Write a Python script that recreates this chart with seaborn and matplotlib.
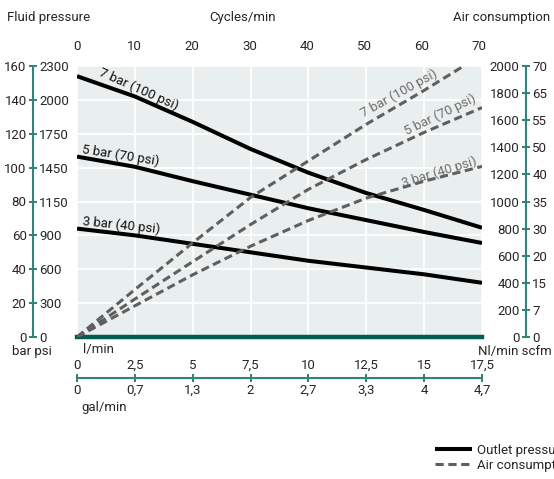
import numpy as np
import pandas as pd
import matplotlib.pyplot as plt
import seaborn as sns

# Tamano en pixeles de la figura
W, H = 554, 479

sns.set_theme(style='white')
plt.rcParams['font.family'] = ['Roboto', 'DejaVu Sans']
plt.rcParams['font.size'] = 9.5
FS = 9.5

# ---- Datos ----
flujo = [0, 2.5, 5, 7.5, 10, 12.5, 15, 17.5]            # l/min
salida_7bar = [154, 142, 127, 111, 97, 85, 75, 64.5]     # bar
salida_5bar = [106.5, 100.5, 92, 84, 76, 69, 62, 55.5]
salida_3bar = [64, 60, 55, 50, 45, 41, 37, 32]

flujo_aire_7 = [0, 2.5, 5, 7.5, 10, 12.5, 15, 16.85]
aire_7bar = [0, 350, 695, 1030, 1300, 1570, 1820, 2015]  # Nl/min
aire_5bar = [0, 280, 556, 830, 1090, 1310, 1510, 1693]
aire_3bar = [0, 230, 459, 670, 860, 1025, 1150, 1259]

ciclos_ticks = [0, 10, 20, 30, 40, 50, 60, 70]
bar_ticks = [0, 20, 40, 60, 80, 100, 120, 140, 160]
psi_labels = ['0', '300', '600', '900', '1150', '1450', '1750', '2000', '2300']
nl_ticks = [0, 200, 400, 600, 800, 1000, 1200, 1400, 1600, 1800, 2000]
scfm_labels = ['0', '7', '15', '20', '30', '35', '40', '50', '55', '65', '70']
lmin_ticks = [0, 2.5, 5, 7.5, 10, 12.5, 15, 17.5]
lmin_labels = ['0', '2,5', '5', '7,5', '10', '12,5', '15', '17,5']
gal_labels = ['0', '0,7', '1,3', '2', '2,7', '3,3', '4', '4,7']

TEAL = '#2f8576'
TEAL_OSC = '#005c50'
GRIS = '#5f5f5f'
FONDO = '#e9eeee'


def px2pt(p):
    return p * 72 / 100


fig = plt.figure(figsize=(W / 100, H / 100), dpi=100)
L, R, T, B = 77, 482, 66, 337
ax = fig.add_axes([L / W, 1 - B / H, (R - L) / W, (B - T) / H])
ax.set_facecolor(FONDO)
ax.set_xlim(0, 17.5)
ax.set_ylim(0, 160)
ax.set_xticks(lmin_ticks)
ax.tick_params(axis='x', length=0, labelbottom=False)
ax.grid(True, color='white', linewidth=1.2)
for s in ['top', 'right']:
    ax.spines[s].set_visible(False)
ax.spines['bottom'].set_color(TEAL_OSC)
ax.spines['bottom'].set_linewidth(3.2)
ax.spines['bottom'].set_zorder(5)

tick_kw = dict(direction='inout', length=6, width=1.3, color=TEAL, pad=1.5, labelsize=FS)

# Eje izquierdo (bar)
ax.spines['left'].set_position(('outward', px2pt(44)))
ax.spines['left'].set_color(TEAL)
ax.spines['left'].set_linewidth(1.5)
ax.set_yticks(bar_ticks)
ax.tick_params(axis='y', **tick_kw)

# Eje izquierdo (psi)
ax_p = ax.twinx()
ax_p.set_ylim(0, 160)
for s in ['top', 'left', 'bottom', 'right']:
    ax_p.spines[s].set_visible(False)
ax_p.spines['right'].set_position(('axes', -44 / (R - L)))
ax_p.set_yticks(bar_ticks, psi_labels)
ax_p.tick_params(axis='y', **tick_kw)

# Consumo de aire (Nl/min a la izquierda del eje, scfm a la derecha)
ax2 = ax.twinx()
ax2.set_ylim(0, 2000)
for s in ['top', 'left', 'bottom']:
    ax2.spines[s].set_visible(False)
ax2.spines['right'].set_position(('outward', px2pt(44)))
ax2.spines['right'].set_color(TEAL)
ax2.spines['right'].set_linewidth(1.5)
ax2.set_yticks(nl_ticks, scfm_labels)
ax2.tick_params(axis='y', **tick_kw)

ax3 = ax.twinx()
ax3.set_ylim(0, 2000)
for s in ['top', 'right', 'bottom', 'left']:
    ax3.spines[s].set_visible(False)
ax3.yaxis.set_ticks_position('left')
ax3.spines['left'].set_position(('axes', 1 + 44 / (R - L)))
ax3.set_yticks(nl_ticks, [str(v) for v in nl_ticks])
ax3.tick_params(axis='y', **tick_kw)

# Eje de ciclos arriba
ax_c = ax.twiny()
ax_c.set_xlim(0, 70.5)
for s in ['top', 'right', 'bottom', 'left']:
    ax_c.spines[s].set_visible(False)
ax_c.set_xticks(ciclos_ticks)
ax_c.tick_params(axis='x', length=0, pad=px2pt(13), labelsize=FS)

# Escala de caudal abajo (l/min arriba de la linea, gal/min debajo)
ABAJO = -(378 - B) / (B - T)
ax_l = ax.twiny()
ax_l.set_xlim(0, 17.5)
for s in ['right', 'bottom', 'left']:
    ax_l.spines[s].set_visible(False)
ax_l.spines['top'].set_position(('axes', ABAJO))
ax_l.spines['top'].set_color(TEAL)
ax_l.spines['top'].set_linewidth(1.5)
ax_l.set_xticks(lmin_ticks, lmin_labels)
ax_l.tick_params(axis='x', **tick_kw)

ax_g = ax.twiny()
ax_g.set_xlim(0, 17.5)
for s in ['right', 'top', 'left', 'bottom']:
    ax_g.spines[s].set_visible(False)
ax_g.xaxis.set_ticks_position('bottom')
ax_g.spines['bottom'].set_position(('axes', ABAJO))
ax_g.set_xticks(lmin_ticks, gal_labels)
ax_g.tick_params(axis='x', **tick_kw)

# ---- Curvas ----
for serie in [salida_7bar, salida_5bar, salida_3bar]:
    sns.lineplot(x=flujo, y=serie, ax=ax, color='black', linewidth=2.9,
                 solid_capstyle='butt', solid_joinstyle='round', zorder=4)

for fx_, serie in [(flujo_aire_7, aire_7bar), (flujo, aire_5bar), (flujo, aire_3bar)]:
    sns.lineplot(x=fx_, y=serie, ax=ax2, color=GRIS, linewidth=2.2,
                 linestyle=(0, (2.7, 1.5)), zorder=3)

ax.set_xlabel('')
ax.set_ylabel('')
ax2.set_ylabel('')


def data_pt(axis, px, py):
    # convierte pixeles a datos del eje indicado
    x0, x1 = axis.get_xlim()
    y0, y1 = axis.get_ylim()
    return (x0 + (px - L) / (R - L) * (x1 - x0), y0 + (B - py) / (B - T) * (y1 - y0))


etiquetas_sal = [('7 bar (100 psi)', 139, 89, -24), ('5 bar (70 psi)', 121, 155, -9),
                 ('3 bar (40 psi)', 121, 225, -6)]
for txt, px, py, rot in etiquetas_sal:
    x, y = data_pt(ax, px, py)
    ax.text(x, y, txt, rotation=rot, ha='center', va='center', fontsize=FS,
            color='#111111', rotation_mode='anchor', zorder=6)

etiquetas_aire = [('7 bar (100 psi)', 399, 93, 29), ('5 bar (70 psi)', 440, 115, 26),
                  ('3 bar (40 psi)', 439, 172, 17)]
for txt, px, py, rot in etiquetas_aire:
    x, y = data_pt(ax2, px, py)
    ax2.text(x, y, txt, rotation=rot, ha='center', va='center', fontsize=FS,
             color='#6e6e6e', rotation_mode='anchor', zorder=6)


# ---- Textos de ejes ----
def ftext(px, py, s, **kw):
    fig.text(px / W, 1 - py / H, s, fontsize=FS, va='center', **kw)


ftext(7, 17, 'Fluid pressure', ha='left')
ftext(243, 17, 'Cycles/min', ha='center')
ftext(550, 17, 'Air consumption', ha='right')
ftext(32, 352, 'bar psi', ha='center')
ftext(83, 350, 'l/min', ha='left')
ftext(552, 352, 'Nl/min scfm', ha='right')
ftext(81, 407, 'gal/min', ha='left')

# ---- Leyenda (cortada en el borde derecho, como en el original) ----
fig.legend(handles=[ax.lines[0], ax2.lines[0]], labels=['Outlet pressure', 'Air consumption'],
           loc='upper left', bbox_to_anchor=(435 / W, 1 - 444 / H), frameon=False,
           fontsize=FS, handlelength=2.8, handletextpad=0.35, labelspacing=0.15,
           borderpad=0, borderaxespad=0)

fig.savefig('out.png', dpi=100)
